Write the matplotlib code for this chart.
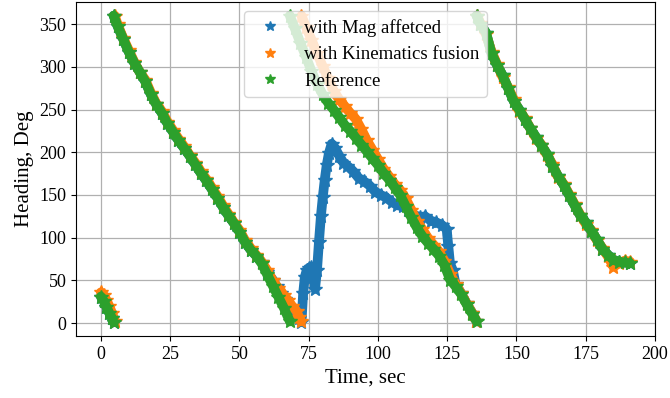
import numpy as np
import matplotlib
matplotlib.use('Agg')
import matplotlib.pyplot as plt

plt.rcParams['font.family'] = 'serif'
plt.rcParams['font.serif'] = ['Liberation Serif', 'DejaVu Serif']

nan = np.nan

# heading readings (deg) vs time (sec); nan marks a 0 -> 360 wrap
t_ref = [0, 1, 2, 3, 4, 4.6, nan,
         4.6, 6, 8, 10, 12, 14, 16, 18, 20, 22, 24, 26, 28, 30, 32, 34, 36, 38, 40,
         42, 44, 46, 48, 50, 52, 54, 56, 58, 60, 62, 64, 66, 68.2, nan,
         68.2, 70, 72, 74, 76, 78, 80, 82, 84, 86, 88, 90, 92, 94, 96, 98, 100, 102,
         104, 106, 108, 110, 112, 114, 116, 118, 120, 122, 124, 126, 128, 130, 132,
         134, 135.6, nan,
         135.6, 137, 139, 141, 143, 145, 147, 149, 151, 153, 155, 157, 159, 161, 163,
         165, 167, 169, 171, 173, 175, 177, 179, 181, 183, 185, 187, 189, 191]
h_ref = [31, 26, 19, 12, 6, 1, nan,
         360, 348, 333, 318, 305, 294, 283, 268, 256, 246, 234, 224, 214, 205, 196,
         186, 176, 167, 157, 147, 136, 126, 117, 107, 95, 86, 79, 70, 57, 44, 31, 18,
         2, nan,
         360, 345, 328, 312, 295, 280, 268, 258, 250, 241, 232, 225, 217, 209, 201,
         193, 185, 176, 168, 159, 150, 137, 124, 112, 102, 94, 87, 79, 68, 51, 43, 34,
         22, 11, 2, nan,
         360, 350, 340, 316, 302, 290, 275, 260, 250, 239, 228, 218, 208, 198, 184,
         172, 162, 150, 138, 126, 118, 108, 98, 87, 80, 74, 72, 71, 70]

t_kin = [0, 1, 2, 3, 4, 5, nan,
         5, 6, 8, 10, 12, 14, 16, 18, 20, 22, 24, 26, 28, 30, 32, 34, 36, 38, 40, 42,
         44, 46, 48, 50, 52, 54, 56, 58, 60, 62, 64, 66, 67.5, 69, 70.6, 71.5, 72.3,
         nan,
         72.4, 74, 76, 78, 80, 82, 84, 86, 88, 90, 92, 94, 96, 98, 100, 102, 104, 106,
         108, 110, 112, 114, 116, 118, 120, 122, 124, 126, 128, 130, 132, 134, 135.5,
         nan,
         135.8, 137, 139, 141, 143, 145, 147, 149, 151, 153, 155, 157, 159, 161, 163,
         165, 167, 169, 171, 173, 175, 177, 179, 181, 183, 185, 187, 189, 191]
h_kin = [36, 33, 27, 20, 12, 3, nan,
         360, 350, 334, 320, 306, 294, 285, 270, 257, 248, 236, 226, 216, 207, 197,
         188, 178, 169, 159, 149, 138, 128, 118, 109, 97, 88, 80, 72, 62, 50, 41, 33,
         27, 20, 14, 7, 2, nan,
         360, 347, 332, 316, 301, 287, 272, 262, 254, 246, 239, 227, 214, 203, 192,
         181, 172, 163, 156, 146, 133, 120, 110, 100, 92, 84, 73, 58, 46, 35, 23, 12,
         3, nan,
         360, 351, 338, 318, 303, 288, 276, 262, 248, 240, 228, 217, 209, 197, 186,
         171, 163, 151, 139, 127, 116, 109, 97, 88, 78, 66, 70, 73, 72]

t_mag = [0, 1, 2, 3, 4, 4.6, nan,
         4.6, 6, 8, 10, 12, 14, 16, 18, 20, 22, 24, 26, 28, 30, 32, 34, 36, 38, 40,
         42, 44, 46, 48, 50, 52, 54, 56, 58, 60, 62, 63.4, 65, 66.5, 68.2, 70, 71.5,
         72.4, 73, 73.6, 74.3, 75.2, 76, 76.7, 77.3, 78, 78.7, 79.4, 80.1, 80.8, 81.5,
         82.3, 83.3, 84.5, 86, 87.5, 89, 91, 93, 95, 97, 99, 101, 103, 105, 107, 109,
         111, 113, 115, 117, 119, 121, 123, 124.8, 125.4, 126, 127, 128, 130, 132,
         134, 135.5, nan,
         135.6, 137, 139, 141, 143, 145, 147, 149, 151, 153, 155, 157, 159, 161, 163,
         165, 167, 169, 171, 173, 175, 177, 179, 181, 183, 185, 187, 189, 191]
h_mag = [31, 26, 19, 12, 6, 1, nan,
         360, 348, 333, 318, 305, 294, 283, 268, 256, 246, 234, 224, 214, 205, 196,
         186, 176, 167, 157, 147, 136, 126, 117, 107, 95, 86, 79, 71, 60, 51, 43, 35,
         28, 19, 12, 6, 1, 35, 54, 62, 65, 66, 58, 40, 62, 95, 125, 148, 168, 185,
         199, 210, 205, 196, 188, 184, 178, 170, 166, 161, 154, 150, 147, 142, 138,
         137, 133, 127, 124, 125, 120, 118, 115, 110, 90, 70, 62, 46, 35, 23, 12, 3,
         nan,
         360, 350, 340, 316, 302, 290, 275, 260, 250, 239, 228, 218, 208, 198, 184,
         172, 162, 150, 138, 126, 118, 108, 98, 87, 80, 74, 72, 71, 70]

series = [
    (t_mag, h_mag, '#1f77b4', 'with Mag affetced'),
    (t_kin, h_kin, '#ff7f0e', 'with Kinematics fusion'),
    (t_ref, h_ref, '#2ca02c', 'Reference'),
]

fig = plt.figure(figsize=(6.7, 3.98), dpi=100)
ax = fig.add_subplot(111)
fig.subplots_adjust(left=0.1134, right=0.9776, bottom=0.156, top=0.995)

for t, h, c, lab in series:
    # thick line keeps the dense-sample band look, stars on top
    ax.plot(t, h, color=c, lw=7, solid_capstyle='round', solid_joinstyle='round')
    ax.plot(t, h, '*', color=c, ms=10, label=lab)

ax.set_xlim(-9, 200)
ax.set_ylim(-15, 376)
ax.set_xticks(np.arange(0, 201, 25))
ax.set_yticks(np.arange(0, 351, 50))
ax.tick_params(labelsize=13)
ax.grid(True, color='#b0b0b0', lw=0.9)
ax.set_axisbelow(True)
ax.set_xlabel('Time, sec', fontsize=15)
ax.set_ylabel('Heading, Deg', fontsize=15)
ax.legend(loc='upper center', fontsize=13.5, markerscale=0.7)

fig.savefig('out.png', dpi=100)
